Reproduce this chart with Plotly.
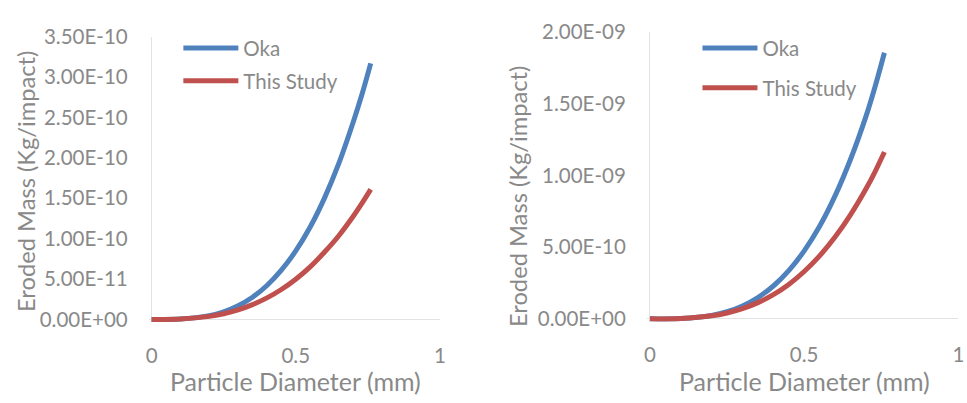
import plotly.graph_objects as go

# Particle diameter (mm) sample points along each curve
diameter = [0, 0.1, 0.2, 0.25, 0.3, 0.35, 0.4, 0.45, 0.5, 0.55, 0.6, 0.65, 0.7, 0.73, 0.76]

# Left case: eroded mass per impact (kg/impact)
left_oka = [0, 0.0053e-10, 0.047e-10, 0.095e-10, 0.170e-10, 0.275e-10, 0.420e-10,
            0.610e-10, 0.848e-10, 1.144e-10, 1.505e-10, 1.937e-10, 2.45e-10,
            2.79e-10, 3.17e-10]
left_study = [0, 0.0055e-10, 0.038e-10, 0.0715e-10, 0.119e-10, 0.184e-10, 0.267e-10,
              0.371e-10, 0.498e-10, 0.651e-10, 0.835e-10, 1.04e-10, 1.28e-10,
              1.44e-10, 1.61e-10]

# Right case: eroded mass per impact (kg/impact)
right_oka = [0, 0.0025e-9, 0.024e-9, 0.0498e-9, 0.090e-9, 0.1486e-9, 0.229e-9,
             0.336e-9, 0.474e-9, 0.645e-9, 0.857e-9, 1.111e-9, 1.41e-9,
             1.62e-9, 1.855e-9]
right_study = [0, 0.0026e-9, 0.021e-9, 0.0412e-9, 0.071e-9, 0.113e-9, 0.169e-9,
               0.240e-9, 0.330e-9, 0.439e-9, 0.570e-9, 0.725e-9, 0.905e-9,
               1.027e-9, 1.163e-9]

# Axis ticks
x_ticks = [0, 0.5, 1]
x_tick_text = ["0", "0.5", "1"]
left_y_ticks = [0, 5e-11, 1e-10, 1.5e-10, 2e-10, 2.5e-10, 3e-10, 3.5e-10]
left_y_text = ["0.00E+00", "5.00E-11", "1.00E-10", "1.50E-10",
               "2.00E-10", "2.50E-10", "3.00E-10", "3.50E-10"]
right_y_ticks = [0, 5e-10, 1e-9, 1.5e-9, 2e-9]
right_y_text = ["0.00E+00", "5.00E-10", "1.00E-09", "1.50E-09", "2.00E-09"]

BLUE = "#4f81bd"
RED = "#c0504d"
GREY = "#898989"
AXIS = "#e3e3e3"
FONT = "Lato"
TICK_SIZE = 20.5
XTITLE_SIZE = 25
YTITLE_SIZE = 23.7

fig = go.Figure()


def curve(x, y, name, color, xa, ya, leg, grp):
    return go.Scatter(x=x, y=y, name=name, mode="lines",
                      line=dict(color=color, width=5, shape="spline", smoothing=1.0),
                      xaxis=xa, yaxis=ya, legend=leg, legendgroup=grp)


fig.add_trace(curve(diameter, left_oka, "Oka", BLUE, "x", "y", "legend", "a"))
fig.add_trace(curve(diameter, left_study, "This Study", RED, "x", "y", "legend", "b"))
fig.add_trace(curve(diameter, right_oka, "Oka", BLUE, "x2", "y2", "legend2", "c"))
fig.add_trace(curve(diameter, right_study, "This Study", RED, "x2", "y2", "legend2", "d"))

W, H = 967, 403


def px_x(p):
    return p / W


def px_y(p):
    return (H - p) / H


xaxis_common = dict(
    tickvals=x_ticks, ticktext=x_tick_text, showgrid=False, showline=False,
    zeroline=True, zerolinecolor=AXIS, zerolinewidth=1.3, ticks="",
    tickfont=dict(family=FONT, size=TICK_SIZE, color=GREY), ticklabelstandoff=19,
    fixedrange=True,
)
yaxis_common = dict(
    showgrid=False, showline=False, zeroline=True, zerolinecolor=AXIS,
    zerolinewidth=1.3, ticks="", tickfont=dict(family=FONT, size=TICK_SIZE, color=GREY),
    ticklabelstandoff=20, fixedrange=True,
)

legend_common = dict(xanchor="left", yanchor="top", bgcolor="rgba(0,0,0,0)",
                     font=dict(family=FONT, size=TICK_SIZE, color=GREY),
                     itemwidth=55, traceorder="grouped")


def title_note(text, x, y, size, angle=0):
    return dict(text=text, x=px_x(x), y=px_y(y), xref="paper", yref="paper",
                xanchor="center", yanchor="middle", textangle=angle,
                showarrow=False, font=dict(family=FONT, size=size, color=GREY))


fig.update_layout(
    width=W, height=H,
    margin=dict(l=0, r=0, t=0, b=0),
    paper_bgcolor="white", plot_bgcolor="white",
    font=dict(family=FONT, color=GREY),
    xaxis=dict(domain=[px_x(147.1), px_x(441)], range=[-0.01, 1],
               anchor="y", **xaxis_common),
    yaxis=dict(domain=[px_y(326.3), px_y(25)], range=[-3.5e-12, 3.5e-10],
               tickvals=left_y_ticks, ticktext=left_y_text, anchor="x",
               **yaxis_common),
    xaxis2=dict(domain=[px_x(649.9), px_x(964.4)], range=[-0.01, 1],
                anchor="y2", **xaxis_common),
    yaxis2=dict(domain=[px_y(325.7), px_y(20)], range=[-2e-11, 2e-9],
                tickvals=right_y_ticks, ticktext=right_y_text, anchor="x2",
                **yaxis_common),
    legend=dict(x=px_x(177), y=px_y(16), tracegroupgap=3, **legend_common),
    legend2=dict(x=px_x(701), y=px_y(16), tracegroupgap=10, **legend_common),
    showlegend=True,
    annotations=[
        title_note("Eroded Mass (Kg/impact)", 22.5, 178, YTITLE_SIZE, -90),
        title_note("Eroded Mass (Kg/impact)", 520, 194, YTITLE_SIZE, -90),
        title_note("Particle Diameter (mm)", 295.3, 388, XTITLE_SIZE),
        title_note("Particle Diameter (mm)", 808.7, 388, XTITLE_SIZE),
    ],
)

fig.write_html("out.html")
